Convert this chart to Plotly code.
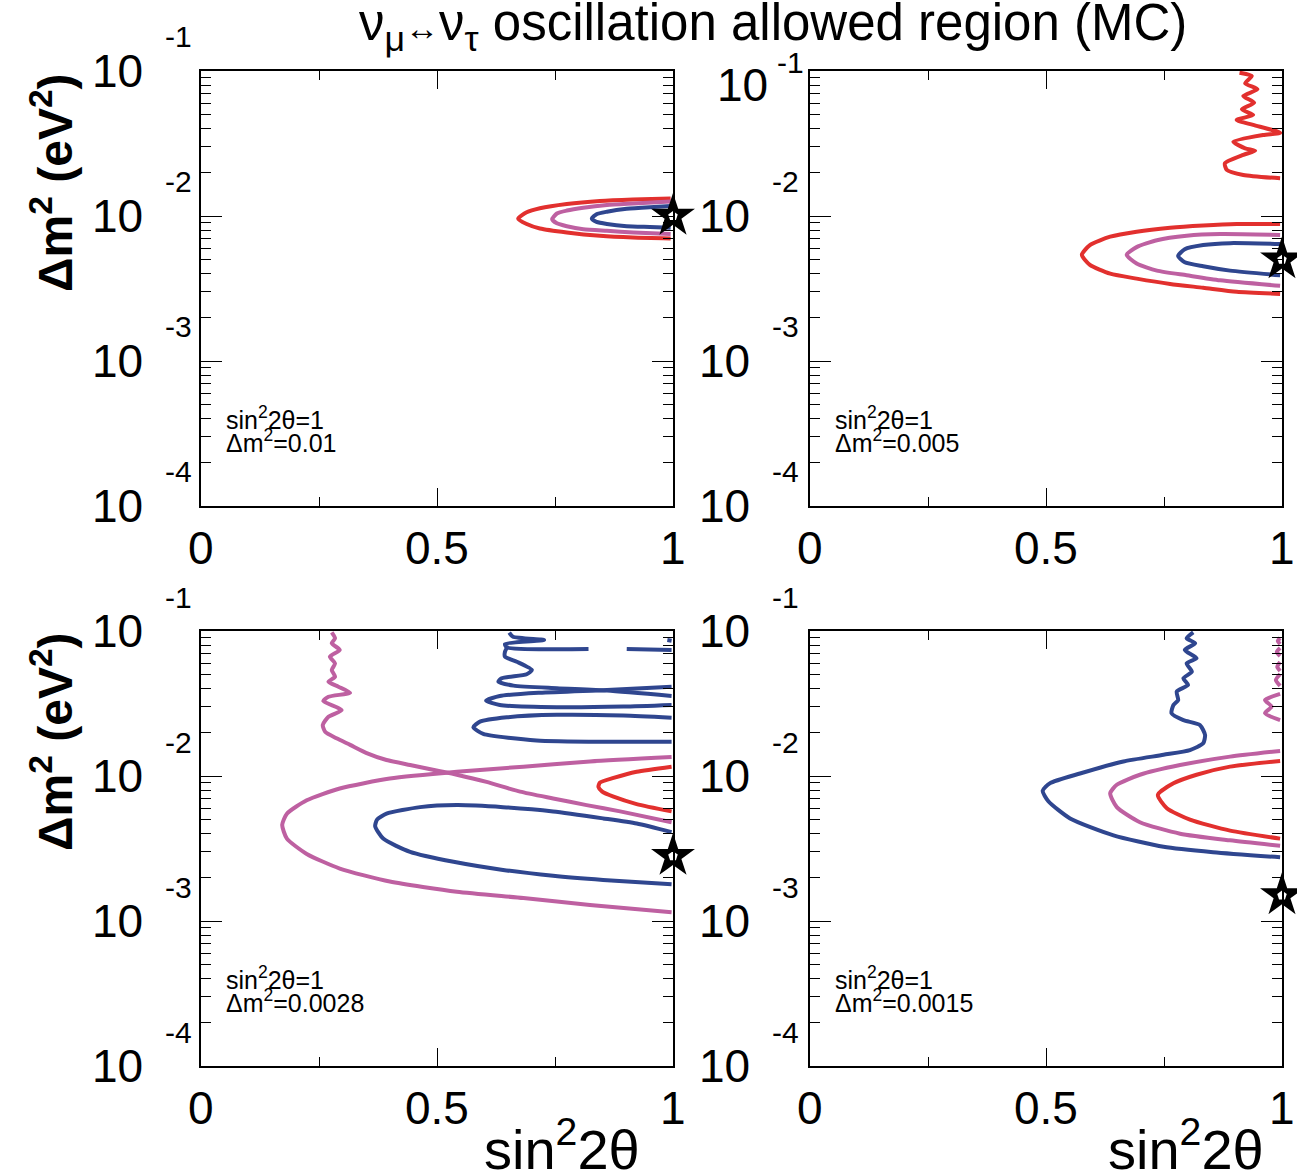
import plotly.graph_objects as go

RED, PINK, BLUE = "#e2302e", "#be60a1", "#2f468f"
FONT = "Liberation Sans, Arial, sans-serif"

# generated (true) oscillation parameters of the four MC samples
true_sin2 = [1.0, 1.0, 1.0, 1.0]
true_dm2 = [0.01, 0.005, 0.0028, 0.0015]
dm2_text = ["0.01", "0.005", "0.0028", "0.0015"]

# y-axis decades and x-axis labels
decades = [-1, -2, -3, -4]
x_major = [0, 0.5, 1]
x_major_text = ["0", "0.5", "1"]
x_minor = [0.25, 0.75]

# ---- sample 1: dm2 = 0.01 ----
s1_red_x = [0.995, 0.915, 0.845, 0.775, 0.718, 0.690, 0.672, 0.690, 0.718, 0.775, 0.845, 0.915, 0.995]
s1_red_y = [0.0132, 0.0130, 0.0127, 0.0121, 0.0113, 0.0106, 0.0096, 0.0088, 0.0082, 0.0077, 0.0073, 0.0071, 0.0070]
s1_pink_x = [0.995, 0.916, 0.860, 0.810, 0.775, 0.754, 0.744, 0.754, 0.775, 0.810, 0.860, 0.916, 0.995]
s1_pink_y = [0.0126, 0.0122, 0.0119, 0.0114, 0.0109, 0.0104, 0.0095, 0.0089, 0.0085, 0.0081, 0.0079, 0.0077, 0.0075]
s1_blue_x = [0.995, 0.951, 0.902, 0.860, 0.838, 0.828, 0.838, 0.860, 0.902, 0.951, 0.995]
s1_blue_y = [0.0117, 0.0115, 0.0112, 0.0107, 0.0103, 0.0096, 0.0091, 0.0088, 0.0085, 0.0084, 0.0083]

# ---- sample 2: dm2 = 0.005 ----
s2_red_x = [0.996, 0.904, 0.833, 0.763, 0.692, 0.636, 0.593, 0.576, 0.593, 0.636, 0.692, 0.763, 0.833, 0.904, 0.996]
s2_red_y = [0.0088, 0.0088, 0.0086, 0.0083, 0.0078, 0.0072, 0.0063, 0.0054, 0.0046, 0.0040, 0.0037, 0.0034, 0.0032, 0.0030, 0.0029]
s2_red_hi_x = [0.910, 0.936, 0.922, 0.948, 0.918, 0.941, 0.915, 0.939, 0.904, 0.939, 0.996, 0.960, 0.897, 0.922,
               0.943, 0.918, 0.879, 0.883, 0.918, 0.996]
s2_red_hi_y = [0.0974, 0.0924, 0.0823, 0.0748, 0.0673, 0.0604, 0.0544, 0.0498, 0.0459, 0.0425, 0.0375, 0.0362,
               0.0325, 0.0293, 0.0282, 0.0264, 0.0231, 0.0208, 0.0192, 0.0182]
s2_pink_x = [0.996, 0.869, 0.798, 0.735, 0.692, 0.671, 0.692, 0.735, 0.798, 0.869, 0.996]
s2_pink_y = [0.0074, 0.0075, 0.0073, 0.0068, 0.0061, 0.0054, 0.0047, 0.0042, 0.0039, 0.0036, 0.0033]
s2_blue_x = [0.996, 0.890, 0.833, 0.794, 0.780, 0.794, 0.833, 0.890, 0.996]
s2_blue_y = [0.0064, 0.0065, 0.0063, 0.0059, 0.0053, 0.0048, 0.0045, 0.0042, 0.0039]

# ---- sample 3: dm2 = 0.0028 ----
s3_red_x = [0.997, 0.923, 0.874, 0.845, 0.842, 0.850, 0.874, 0.923, 0.997]
s3_red_y = [0.0116, 0.0107, 0.0097, 0.0090, 0.0084, 0.0078, 0.0072, 0.0064, 0.0057]
s3_pink_a_x = [0.277, 0.284, 0.277, 0.294, 0.273, 0.284, 0.277, 0.284, 0.270, 0.291, 0.316, 0.270, 0.259, 0.298,
               0.270, 0.258, 0.263, 0.287, 0.316, 0.351, 0.393, 0.443, 0.499, 0.542, 0.605, 0.676, 0.746, 0.817,
               0.888, 0.997]
s3_pink_a_y = [0.0979, 0.0891, 0.0823, 0.0740, 0.0665, 0.0598, 0.0538, 0.0484, 0.0447, 0.0413, 0.0375, 0.0352,
               0.0329, 0.0285, 0.0256, 0.0225, 0.0202, 0.0182, 0.0164, 0.0144, 0.0129, 0.0119, 0.0109, 0.0102,
               0.0091, 0.0078, 0.0070, 0.0063, 0.0057, 0.0048]
s3_pink_b_x = [0.997, 0.824, 0.683, 0.542, 0.400, 0.294, 0.224, 0.182, 0.172, 0.182, 0.224, 0.294, 0.400, 0.542,
               0.683, 0.824, 0.997]
s3_pink_b_y = [0.0135, 0.0126, 0.0116, 0.0107, 0.0096, 0.0082, 0.0068, 0.0055, 0.0046, 0.0037, 0.0029, 0.0023,
               0.00187, 0.00159, 0.00144, 0.00129, 0.00115]
s3_blue_lo_x = [0.997, 0.923, 0.852, 0.746, 0.640, 0.542, 0.464, 0.393, 0.373, 0.369, 0.386, 0.443, 0.535, 0.640,
                0.746, 0.852, 0.997]
s3_blue_lo_y = [0.0041, 0.0047, 0.0051, 0.0057, 0.0061, 0.0063, 0.0061, 0.0055, 0.0050, 0.0045, 0.0037, 0.0030,
                0.00256, 0.00225, 0.00205, 0.00192, 0.00179]
# upper blue islands (separate pieces split by None)
s3_blue_hi_x = [0.653, 0.661, 0.727, 0.644, 0.648, 0.821, None,
                0.902, 0.997, None,
                0.988, 0.997, None,
                0.648, 0.644, 0.644, 0.669, 0.701, 0.690, 0.637, 0.630, 0.662, 0.754, 0.860, 0.997, None,
                0.997, 0.860, 0.718, 0.633, 0.604, 0.633, 0.754, 0.895, 0.997, None,
                0.997, 0.895, 0.754, 0.648, 0.591, 0.577, 0.598, 0.711, 0.852, 0.997]
s3_blue_hi_y = [0.0974, 0.0913, 0.0867, 0.0813, 0.0772, 0.0751, None,
                0.0751, 0.0740, None,
                0.0867, 0.0857, None,
                0.0765, 0.0720, 0.0665, 0.0614, 0.0538, 0.0503, 0.0472, 0.0447, 0.0420, 0.0403, 0.0388, 0.0356, None,
                0.0413, 0.0392, 0.0375, 0.0356, 0.0331, 0.0309, 0.0298, 0.0301, 0.0309, None,
                0.0252, 0.0261, 0.0264, 0.0254, 0.0237, 0.0217, 0.0195, 0.0176, 0.0172, 0.0172]

# ---- sample 4: dm2 = 0.0015 ----
s4_red_x = [0.996, 0.890, 0.819, 0.770, 0.737, 0.756, 0.805, 0.890, 0.996]
s4_red_y = [0.0127, 0.0116, 0.0102, 0.0089, 0.0074, 0.0060, 0.0050, 0.0042, 0.0037]
s4_pink_x = [0.996, 0.890, 0.784, 0.699, 0.650, 0.636, 0.650, 0.699, 0.784, 0.890, 0.996]
s4_pink_y = [0.0149, 0.0136, 0.0119, 0.0102, 0.0087, 0.0076, 0.0061, 0.0048, 0.0040, 0.0036, 0.0033]
s4_pink_hi_x = [0.996, 0.991, 0.996, None, 0.996, 0.989, 0.996, None, 0.996, 0.990, 0.996, None,
                0.996, 0.987, 0.996, None, 0.996, 0.964, 0.978, 0.964, 0.996]
s4_pink_hi_y = [0.0895, 0.0853, 0.0813, None, 0.0764, 0.0717, 0.0673, None, 0.0611, 0.0565, 0.0530, None,
                0.0505, 0.0459, 0.0418, None, 0.0368, 0.0334, 0.0301, 0.0271, 0.0243]
s4_blue_x = [0.812, 0.798, 0.816, 0.794, 0.819, 0.798, 0.809, 0.791, 0.801, 0.777, 0.780, 0.770, 0.766, 0.791,
             0.826, 0.837, 0.833, 0.805, 0.749, 0.664, 0.572, 0.508, 0.493, 0.505, 0.551, 0.643, 0.749, 0.854, 0.996]
s4_blue_y = [0.0979, 0.0891, 0.0823, 0.0740, 0.0649, 0.0598, 0.0524, 0.0472, 0.0425, 0.0382, 0.0334, 0.0309,
             0.0271, 0.0243, 0.0225, 0.0192, 0.0168, 0.0151, 0.0140, 0.0126, 0.0104, 0.0089, 0.0079, 0.0067,
             0.0051, 0.0039, 0.00325, 0.00298, 0.00275]

panels = [
    [(s1_red_x, s1_red_y, RED), (s1_pink_x, s1_pink_y, PINK), (s1_blue_x, s1_blue_y, BLUE)],
    [(s2_red_x, s2_red_y, RED), (s2_red_hi_x, s2_red_hi_y, RED), (s2_pink_x, s2_pink_y, PINK),
     (s2_blue_x, s2_blue_y, BLUE)],
    [(s3_red_x, s3_red_y, RED), (s3_pink_a_x, s3_pink_a_y, PINK), (s3_pink_b_x, s3_pink_b_y, PINK),
     (s3_blue_lo_x, s3_blue_lo_y, BLUE), (s3_blue_hi_x, s3_blue_hi_y, BLUE)],
    [(s4_red_x, s4_red_y, RED), (s4_pink_x, s4_pink_y, PINK), (s4_pink_hi_x, s4_pink_hi_y, PINK),
     (s4_blue_x, s4_blue_y, BLUE)],
]

W, H = 1297, 1173
# pixel frame of each panel: (left, right, top, bottom)
frames = [(201, 673, 71, 506), (810, 1282, 71, 506), (201, 673, 631, 1066), (810, 1282, 631, 1066)]

fig = go.Figure()
annotations = []
minor_y = [m * 10.0 ** k for k in range(-4, -1) for m in range(2, 10)]

for i, (curves, (l, r, t, b)) in enumerate(zip(panels, frames)):
    n = i + 1
    suffix = "" if n == 1 else str(n)
    xa, ya = "x" + suffix, "y" + suffix
    xkey, ykey = "xaxis" + suffix, "yaxis" + suffix
    for cx, cy, col in curves:
        fig.add_trace(go.Scatter(x=cx, y=cy, mode="lines", xaxis=xa, yaxis=ya,
                                 line=dict(color=col, width=4, shape="spline", smoothing=0.6),
                                 connectgaps=False, hoverinfo="skip", showlegend=False))
    # generated point: black star with a white core
    fig.add_trace(go.Scatter(x=[true_sin2[i]], y=[true_dm2[i]], mode="markers", xaxis=xa, yaxis=ya,
                             marker=dict(symbol="star", size=33, color="black",
                                         line=dict(color="black", width=0)),
                             cliponaxis=False, showlegend=False, hoverinfo="skip"))
    fig.add_trace(go.Scatter(x=[true_sin2[i]], y=[true_dm2[i]], mode="markers", xaxis=xa, yaxis=ya,
                             marker=dict(symbol="pentagon", size=10, color="white",
                                         line=dict(color="white", width=0)),
                             cliponaxis=False, showlegend=False, hoverinfo="skip"))

    fig.update_layout({
        xkey: dict(domain=[l / W, r / W], range=[0, 1], anchor=ya,
                   showline=True, linecolor="black", linewidth=1.6, mirror="allticks",
                   ticks="inside", ticklen=18, tickwidth=1.3, tickcolor="black",
                   tickvals=x_major, showticklabels=False, showgrid=False, zeroline=False,
                   minor=dict(tickvals=x_minor, ticks="inside", ticklen=9, tickwidth=1.3,
                              tickcolor="black", showgrid=False)),
        ykey: dict(domain=[1 - b / H, 1 - t / H], type="log", range=[-4, -1], anchor=xa,
                   showline=True, linecolor="black", linewidth=1.6, mirror="allticks",
                   ticks="inside", ticklen=21, tickwidth=1.3, tickcolor="black",
                   tickvals=[10.0 ** k for k in decades], showticklabels=False,
                   showgrid=False, zeroline=False,
                   minor=dict(tickvals=minor_y, ticks="inside", ticklen=10, tickwidth=1.3,
                              tickcolor="black", showgrid=False)),
    })

    # y tick labels drawn as "10" with a raised exponent
    right_col = i % 2 == 1
    for k in decades:
        base_shift = -58 if right_col else -56
        exp_shift = -25 if right_col else -23
        ten_dy, exp_dy = 0, 34
        if right_col and i == 1 and k == -1:
            base_shift, exp_shift, ten_dy, exp_dy = -40, -20, -14, 8
        annotations.append(dict(x=0, xref=f"{xa} domain", y=k, yref=ya, text="10",
                                xanchor="right", yanchor="middle", xshift=base_shift, yshift=ten_dy,
                                showarrow=False, font=dict(family=FONT, size=46, color="black")))
        annotations.append(dict(x=0, xref=f"{xa} domain", y=k, yref=ya, text=str(k),
                                xanchor="center", yanchor="middle", xshift=exp_shift, yshift=exp_dy,
                                showarrow=False, font=dict(family=FONT, size=30, color="black")))
    for v, s in zip(x_major, x_major_text):
        annotations.append(dict(x=v, xref=xa, y=0, yref=f"{ya} domain", text=s,
                                xanchor="center", yanchor="middle", yshift=-42,
                                showarrow=False, font=dict(family=FONT, size=46, color="black")))
    # sample description
    annotations.append(dict(x=0, xref=f"{xa} domain", y=0, yref=f"{ya} domain",
                            text="sin<sup>2</sup>2θ=1", xanchor="left", yanchor="middle",
                            xshift=23, yshift=88, showarrow=False,
                            font=dict(family=FONT, size=25, color="black")))
    annotations.append(dict(x=0, xref=f"{xa} domain", y=0, yref=f"{ya} domain",
                            text="Δm<sup>2</sup>=" + dm2_text[i], xanchor="left", yanchor="middle",
                            xshift=23, yshift=65, showarrow=False,
                            font=dict(family=FONT, size=25, color="black")))

# figure title and axis titles
annotations.append(dict(x=773 / W, y=1 - 27 / H, xref="paper", yref="paper",
                        text="ν<sub>μ</sub><span style='font-size:34px'>↔</span>ν<sub>τ</sub>"
                             " oscillation allowed region (MC)",
                        xanchor="center", yanchor="middle", showarrow=False,
                        font=dict(family=FONT, size=51, color="black")))
for yc in (183, 742):
    annotations.append(dict(x=52 / W, y=1 - yc / H, xref="paper", yref="paper",
                            text="<b>Δm<sup>2</sup> (eV<sup>2</sup>)</b>", textangle=-90,
                            xanchor="center", yanchor="middle", showarrow=False,
                            font=dict(family=FONT, size=48, color="black")))
for xr in (642, 1266):
    annotations.append(dict(x=xr / W, y=1 - 1145 / H, xref="paper", yref="paper",
                            text="sin<sup>2</sup>2θ", xanchor="right", yanchor="middle",
                            showarrow=False, font=dict(family=FONT, size=56, color="black")))

fig.update_layout(width=W, height=H, margin=dict(l=0, r=0, t=0, b=0),
                  paper_bgcolor="white", plot_bgcolor="white",
                  annotations=annotations, showlegend=False)

fig.write_html("out.html")
